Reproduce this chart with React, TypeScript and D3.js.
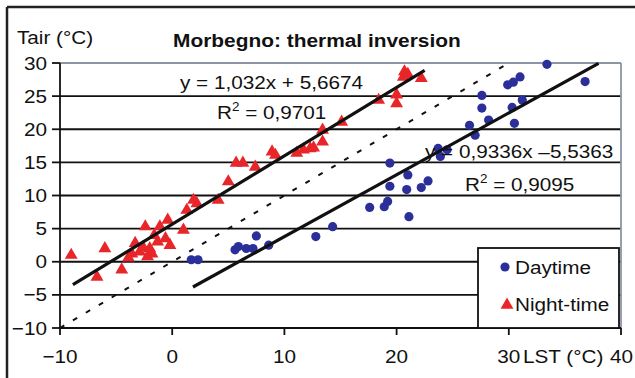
import React from "react";
import * as d3 from "d3";

const nightX = [-9.0, -6.0, -6.7, -4.5, -3.9, -3.3, -2.9, -2.4, -2.2, -2.6, -1.8, -1.3, -1.1, -1.6, -0.4, -0.2, -0.6, 1.0, 1.3, 2.2, 1.9, 4.1, 5.0, 5.7, 6.3, 7.4, 8.9, 9.2, 11.1, 11.7, 12.3, 12.6, 13.4, 13.4, 15.1, 18.4, 20.0, 20.0, 20.7, 20.6, 22.2, 21.0, -3.6, -2.0];
const nightY = [1.0, 2.0, -2.3, -1.2, 0.6, 2.8, 1.5, 5.3, 0.8, 2.2, 1.2, 3.0, 5.3, 4.0, 6.3, 2.5, 3.5, 4.8, 7.8, 8.8, 9.3, 9.3, 12.1, 14.9, 14.9, 14.3, 16.6, 16.1, 16.4, 16.9, 17.1, 17.2, 18.1, 19.9, 21.1, 24.4, 23.9, 25.2, 28.7, 27.9, 27.7, 28.3, 1.2, 2.0];

const dayX = [1.7, 2.3, 5.6, 5.9, 6.6, 7.2, 7.5, 8.6, 12.8, 14.3, 17.6, 18.9, 19.2, 19.4, 19.4, 20.9, 21.0, 21.1, 22.2, 22.8, 23.7, 24.5, 23.9, 26.5, 27.0, 27.6, 27.6, 28.2, 29.9, 30.4, 31.0, 30.3, 31.2, 30.5, 33.4, 36.8];
const dayY = [0.3, 0.3, 1.8, 2.3, 2.0, 2.0, 3.9, 2.5, 3.8, 5.3, 8.2, 8.3, 9.1, 11.4, 14.9, 10.9, 13.1, 6.8, 11.2, 12.2, 17.1, 16.9, 15.9, 20.6, 19.1, 23.2, 25.1, 21.4, 26.7, 27.1, 27.9, 23.3, 24.4, 20.9, 29.8, 27.2];

// fits: [slope, intercept, xStart, xEnd]
const nightFit = [1.032, 5.6674, -8.85, 22.5];
const dayFit = [0.9336, -5.5363, 1.85, 38.0];
const oneToOne = [1, 0, -10, 30];

const xTicks = [-10, 0, 10, 20, 30, 40];
const yTicks = [-10, -5, 0, 5, 10, 15, 20, 25, 30];

const title = "Morbegno: thermal inversion";
const yLabel = "Tair (°C)";
const xLabel = "LST (°C)";
const legendLabels = ["Daytime", "Night-time"];

const RED = "#e8262a";
const BLUE = "#2b2f9a";
const FONT = "'Liberation Sans', Arial, sans-serif";
const FS = 18.5;
const SX = 1.12;

function T(props: { x: number; y: number; anchor?: string; bold?: boolean; sx?: number; children: React.ReactNode }) {
  const { x, y, anchor, bold, sx, children } = props;
  return (
    <text
      transform={`translate(${x},${y}) scale(${sx ?? SX},1)`}
      fontSize={FS}
      fontWeight={bold ? "bold" : "normal"}
      textAnchor={anchor || "start"}
      fill="#111"
    >
      {children}
    </text>
  );
}

const fmt = (t: number) => (t < 0 ? "\u2212" + Math.abs(t) : String(t));

export default function App() {
  const W = 635, H = 378;
  const x = d3.scaleLinear().domain([-10, 40]).range([60, 621]);
  const y = d3.scaleLinear().domain([-10, 30]).range([328, 63]);
  const fitPath = (f: number[]) => {
    const line = d3.line<number>().x((v) => x(v)).y((v) => y(f[0] * v + f[1]));
    return line([f[2], f[3]]) || "";
  };
  const tri = d3.symbol().type(d3.symbolTriangle).size(72)() || "";
  const nightPts = nightX.map((v, i) => [v, nightY[i]]);
  const dayPts = dayX.map((v, i) => [v, dayY[i]]);

  return (
    <svg width={W} height={H} style={{ position: "absolute", left: 0, top: 0, background: "#fff" }} fontFamily={FONT}>
      <rect x={0} y={0} width={W} height={H} fill="#fff" />
      {/* outer frame */}
      <line x1={7} y1={7} x2={W} y2={7} stroke="#222" strokeWidth={2.5} />
      <line x1={7} y1={7} x2={7} y2={H} stroke="#222" strokeWidth={2.5} />

      <T x={17} y={44}>{yLabel}</T>
      <T x={173} y={47} bold sx={1.13}>{title}</T>

      {/* grid */}
      {yTicks.filter((t) => t > -10 && t < 30).map((t) => (
        <line key={t} x1={x(-10)} x2={x(40)} y1={y(t)} y2={y(t)} stroke="#111" strokeWidth={1.8} />
      ))}
      {/* plot border top/right */}
      <line x1={x(-10)} x2={x(40)} y1={y(30)} y2={y(30)} stroke="#8c94a6" strokeWidth={1.8} />
      <line x1={x(40)} x2={x(40)} y1={y(30)} y2={y(-10)} stroke="#8c94a6" strokeWidth={1.8} />

      {/* axes */}
      <line x1={x(-10)} x2={x(40)} y1={y(-10)} y2={y(-10)} stroke="#111" strokeWidth={1.8} />
      <line x1={x(-10)} x2={x(-10)} y1={y(30)} y2={y(-10)} stroke="#111" strokeWidth={1.8} />
      {yTicks.map((t) => (
        <g key={t}>
          <line x1={x(-10) - 8} x2={x(-10)} y1={y(t)} y2={y(t)} stroke="#111" strokeWidth={1.8} />
          <T x={47} y={y(t) + 6.5} anchor="end">{fmt(t)}</T>
        </g>
      ))}
      {xTicks.map((t) => (
        <g key={t}>
          <line x1={x(t)} x2={x(t)} y1={y(-10)} y2={y(-10) + 7} stroke="#111" strokeWidth={1.8} />
          <T x={t === 40 ? W - 2 : x(t)} y={363} anchor={t === 40 ? "end" : "middle"}>{fmt(t)}</T>
        </g>
      ))}
      <T x={523} y={363}>{xLabel}</T>

      {/* 1:1 dashed */}
      <path d={fitPath(oneToOne)} stroke="#111" strokeWidth={2} strokeDasharray="5,10" fill="none" />

      {/* points */}
      {dayPts.map((p, i) => (
        <circle key={"d" + i} cx={x(p[0])} cy={y(p[1])} r={4.6} fill={BLUE} />
      ))}
      {nightPts.map((p, i) => (
        <path key={"n" + i} d={tri} transform={`translate(${x(p[0])},${y(p[1])})`} fill={RED} />
      ))}

      {/* fits */}
      <path d={fitPath(nightFit)} stroke="#111" strokeWidth={3.2} fill="none" />
      <path d={fitPath(dayFit)} stroke="#111" strokeWidth={3.2} fill="none" />

      {/* equations */}
      <T x={180} y={89}>y = 1,032x + 5,6674</T>
      <T x={217} y={119}>R<tspan dy={-8} fontSize={12}>2</tspan><tspan dy={8}> = 0,9701</tspan></T>
      <T x={425} y={158}>y = 0,9336x {"\u2013"}5,5363</T>
      <T x={465} y={191}>R<tspan dy={-8} fontSize={12}>2</tspan><tspan dy={8}> = 0,9095</tspan></T>

      {/* legend */}
      <rect x={478} y={248} width={141} height={80} fill="#fff" stroke="#111" strokeWidth={1.8} />
      <circle cx={505} cy={267} r={4.6} fill={BLUE} />
      <T x={515} y={274}>{legendLabels[0]}</T>
      <path d={tri} transform="translate(507,305)" fill={RED} />
      <T x={515} y={311}>{legendLabels[1]}</T>
    </svg>
  );
}
